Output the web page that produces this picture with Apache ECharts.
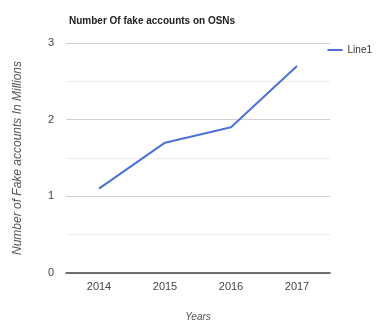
<!DOCTYPE html>
<html>
<head>
<meta charset="utf-8">
<script src="https://cdn.jsdelivr.net/npm/echarts@6/dist/echarts.min.js"></script>
<style>
  html, body { margin: 0; padding: 0; background: #fff; }
  #chart { width: 387px; height: 324px; }
</style>
</head>
<body>
<div id="chart"></div>
<script>
  var years = ['2014', '2015', '2016', '2017'];
  var line1 = [1.1, 1.7, 1.9, 2.7];

  var font = "'Liberation Sans Narrow', 'Liberation Sans', Arial, sans-serif";
  var chart = echarts.init(document.getElementById('chart'), null, { renderer: 'canvas' });

  chart.setOption({
    animation: false,
    textStyle: { fontFamily: font },
    title: {
      text: 'Number Of fake accounts on OSNs',
      left: 64, top: 11,
      textStyle: { fontSize: 10, fontWeight: 'bold', color: '#222', fontFamily: font }
    },
    legend: {
      data: ['Line1'],
      right: 10, top: 40,
      icon: 'rect',
      itemWidth: 15, itemHeight: 2,
      itemGap: 4,
      textStyle: { color: '#333', fontSize: 10, fontFamily: font }
    },
    grid: { left: 66, right: 57, top: 43, bottom: 51, outerBoundsMode: 'none' },
    xAxis: {
      type: 'category',
      data: years,
      name: 'Years',
      nameLocation: 'middle',
      nameGap: 39,
      nameTextStyle: { color: '#555', fontSize: 10, fontStyle: 'italic' },
      axisLine: { lineStyle: { color: '#444', width: 1.5 } },
      axisTick: { show: false },
      axisLabel: { color: '#444', fontSize: 11, margin: 8 }
    },
    yAxis: {
      type: 'value',
      min: 0, max: 3, interval: 1,
      name: 'Number of Fake accounts In Millions',
      nameLocation: 'middle',
      nameGap: 42,
      nameTextStyle: { color: '#555', fontSize: 12, fontStyle: 'italic' },
      axisLine: { show: false },
      axisTick: { show: false },
      axisLabel: { color: '#444', fontSize: 11, margin: 12 },
      splitLine: { lineStyle: { color: '#d0d0d0' } },
      minorTick: { show: false, splitNumber: 2 },
      minorSplitLine: { show: true, lineStyle: { color: '#ececec' } }
    },
    series: [{
      name: 'Line1',
      type: 'line',
      data: line1,
      symbol: 'none',
      lineStyle: { color: '#4a72d4', width: 2 },
      itemStyle: { color: '#4a72d4' }
    }]
  });
</script>
</body>
</html>
